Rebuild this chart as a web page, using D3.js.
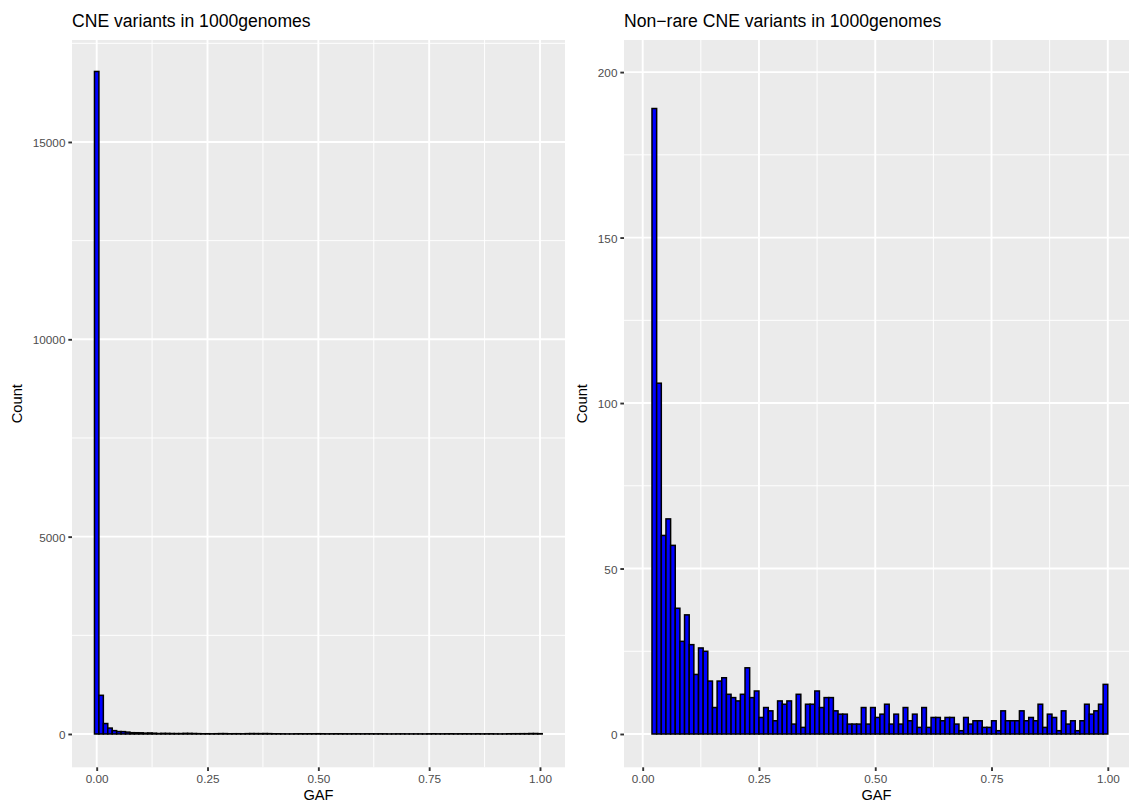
<!DOCTYPE html>
<html>
<head>
<meta charset="utf-8">
<script src="https://cdn.jsdelivr.net/npm/d3@7"></script>
<style>
  html, body { margin: 0; padding: 0; background: #ffffff; }
  svg { display: block; }
  text { font-family: "Liberation Sans", Arial, Helvetica, sans-serif; }
</style>
</head>
<body>
<svg id="chart" width="1129" height="801"></svg>
<script>
// ---------------- DATA ----------------
const binWidth = 0.01;

// Left panel: all CNE variants, bins centered on multiples of 0.01 (first edge -0.005)
const leftBinStart = -0.005;
const leftCounts = [
  16787, 980, 265, 150, 85, 62, 60, 47, 33, 32,
  30, 22, 26, 20, 12, 16, 15, 12, 11, 11,
  16, 15, 12, 9, 6, 7, 5, 7, 10, 10,
  6, 7, 7, 5, 9, 11, 10, 9, 11, 9,
  6, 6, 4, 3, 3, 5, 6, 5, 6, 6,
  7, 6, 4, 5, 6, 6, 5, 4, 5, 5,
  4, 5, 5, 4, 5, 4, 2, 3, 4, 4,
  3, 3, 3, 3, 2, 4, 6, 4, 4, 5,
  6, 4, 5, 6, 5, 4, 6, 3, 4, 5,
  3, 2, 3, 6, 7, 7, 8, 8, 12, 12,
  8
];

// Right panel: non-rare CNE variants, bins starting at 0.02
const rightBinStart = 0.02;
const rightCounts = [
  189, 106, 60, 65, 57, 38, 28, 36, 27, 18,
  26, 25, 16, 8, 16, 17, 12, 11, 10, 12,
  20, 11, 13, 5, 8, 7, 4, 10, 9, 10,
  3, 12, 2, 9, 9, 13, 8, 11, 11, 7,
  6, 6, 3, 3, 3, 8, 3, 8, 5, 6,
  9, 3, 6, 3, 8, 4, 6, 2, 8, 2,
  5, 5, 4, 5, 5, 3, 1, 5, 3, 4,
  4, 2, 2, 4, 1, 7, 4, 4, 4, 7,
  4, 5, 4, 9, 2, 6, 5, 1, 7, 3,
  4, 1, 4, 9, 6, 7, 9, 15
];

const xTicks = [0, 0.25, 0.5, 0.75, 1.0];
const xMinorTicks = [0.125, 0.375, 0.625, 0.875];
const leftYTicks = [0, 5000, 10000, 15000];
const leftYMinor = [2500, 7500, 12500, 17500];
const rightYTicks = [0, 50, 100, 150, 200];
const rightYMinor = [25, 75, 125, 175];

const leftTitle = "CNE variants in 1000genomes";
const rightTitle = "Non\u2212rare CNE variants in 1000genomes";
const xTitle = "GAF";
const yTitle = "Count";

// ---------------- DRAW ----------------
const svg = d3.select("#chart");

function panel(cfg) {
  const { px0, px1, py0, py1, xDomain, yDomain, counts, binStart,
          yTicks, yMinor, title, plotLeft } = cfg;
  const x = d3.scaleLinear().domain(xDomain).range([px0, px1]);
  const y = d3.scaleLinear().domain(yDomain).range([py1, py0]);
  const g = svg.append("g");

  // background
  g.append("rect").attr("x", px0).attr("y", py0)
    .attr("width", px1 - px0).attr("height", py1 - py0)
    .attr("fill", "#EBEBEB");

  // minor grid
  g.selectAll(".xminor").data(xMinorTicks).enter().append("line")
    .attr("x1", d => x(d)).attr("x2", d => x(d))
    .attr("y1", py0).attr("y2", py1)
    .attr("stroke", "#ffffff").attr("stroke-width", 0.95);
  g.selectAll(".yminor").data(yMinor.filter(d => d <= yDomain[1])).enter().append("line")
    .attr("x1", px0).attr("x2", px1)
    .attr("y1", d => y(d)).attr("y2", d => y(d))
    .attr("stroke", "#ffffff").attr("stroke-width", 0.95);
  // major grid
  g.selectAll(".xmajor").data(xTicks).enter().append("line")
    .attr("x1", d => x(d)).attr("x2", d => x(d))
    .attr("y1", py0).attr("y2", py1)
    .attr("stroke", "#ffffff").attr("stroke-width", 1.9);
  g.selectAll(".ymajor").data(yTicks).enter().append("line")
    .attr("x1", px0).attr("x2", px1)
    .attr("y1", d => y(d)).attr("y2", d => y(d))
    .attr("stroke", "#ffffff").attr("stroke-width", 1.9);

  // bars
  const bins = counts.map((c, i) => ({ x0: binStart + i * binWidth, x1: binStart + (i + 1) * binWidth, c }));
  g.selectAll(".bar").data(bins).enter().append("rect")
    .attr("x", d => x(d.x0))
    .attr("width", d => x(d.x1) - x(d.x0))
    .attr("y", d => y(d.c))
    .attr("height", d => y(0) - y(d.c))
    .attr("fill", "#0000FF")
    .attr("stroke", "#000000")
    .attr("stroke-width", 1.5);

  // x axis ticks and labels
  const xa = g.append("g").attr("transform", `translate(0,${py1})`)
    .call(d3.axisBottom(x).tickValues(xTicks).tickFormat(d3.format(".2f"))
      .tickSize(3.67).tickPadding(5));
  xa.select(".domain").remove();
  xa.selectAll(".tick line").attr("stroke", "#333333").attr("stroke-width", 1.9);
  xa.selectAll(".tick text").attr("fill", "#4D4D4D").attr("font-size", "11.73px")
    .attr("dy", null).attr("y", 16);

  // y axis ticks and labels
  const ya = g.append("g").attr("transform", `translate(${px0},0)`)
    .call(d3.axisLeft(y).tickValues(yTicks).tickFormat(d3.format("d"))
      .tickSize(3.67).tickPadding(2.93));
  ya.select(".domain").remove();
  ya.selectAll(".tick line").attr("stroke", "#333333").attr("stroke-width", 1.9);
  ya.selectAll(".tick text").attr("fill", "#4D4D4D").attr("font-size", "11.73px")
    .attr("dy", "0.39em");

  // titles
  g.append("text").attr("x", px0).attr("y", 26.5)
    .attr("font-size", "17.6px").attr("fill", "#000000").text(title);
  g.append("text").attr("x", (px0 + px1) / 2).attr("y", 799.5)
    .attr("text-anchor", "middle").attr("font-size", "14.67px").attr("fill", "#000000")
    .text(xTitle);
  g.append("text")
    .attr("transform", `translate(${plotLeft + 22},${(py0 + py1) / 2}) rotate(-90)`)
    .attr("text-anchor", "middle").attr("font-size", "14.67px").attr("fill", "#000000")
    .text(yTitle);
}

panel({
  px0: 72, px1: 565, py0: 40, py1: 767.3,
  xDomain: [-0.0557, 1.0564], yDomain: [-844, 17584],
  counts: leftCounts, binStart: leftBinStart,
  yTicks: leftYTicks, yMinor: leftYMinor, title: leftTitle, plotLeft: 0
});

panel({
  px0: 624, px1: 1129, py0: 40, py1: 767.3,
  xDomain: [-0.0402, 1.0456], yDomain: [-10.06, 209.7],
  counts: rightCounts, binStart: rightBinStart,
  yTicks: rightYTicks, yMinor: rightYMinor, title: rightTitle, plotLeft: 564.5
});
</script>
</body>
</html>
